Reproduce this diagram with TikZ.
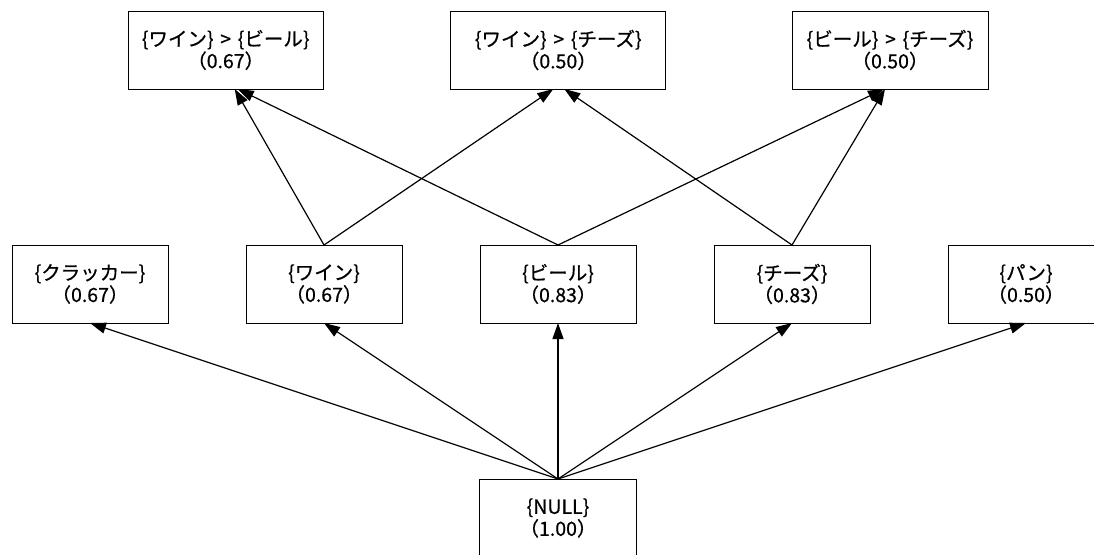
\documentclass[tikz,border=0pt]{standalone}
\usepackage{fontspec}
\setmainfont[FakeBold=0.6,AutoFakeBold=0.6]{Noto Sans CJK JP}
\usetikzlibrary{arrows.meta}
\newcommand{\gtsep}{\hspace{0.12em}>\hspace{0.12em}}
\begin{document}
\begin{tikzpicture}[x=1pt,y=-1pt,
  box/.style={draw=black,line width=1pt,rectangle,minimum height=78pt,inner sep=0pt,outer sep=0pt,align=center,font=\fontsize{19.5}{22}\selectfont\bfseries},
  edge/.style={line width=1.2pt,-{Triangle[length=16pt,width=11pt]}}]
\useasboundingbox (0,0) rectangle (1094,554);
% top row
\node[box,minimum width=195pt] (wb) at (225.7,50) {\{ワイン\} \gtsep{} \{ビール\}\\（0.67）};
\node[box,minimum width=215pt] (wc) at (558.3,50) {\{ワイン\} \gtsep{} \{チーズ\}\\（0.50）};
\node[box,minimum width=196pt] (bc) at (890,50) {\{ビール\} \gtsep{} \{チーズ\}\\（0.50）};
% middle row
\node[box,minimum width=156pt] (cr) at (90,284) {\{クラッカー\}\\（0.67）};
\node[box,minimum width=156pt] (wi) at (324,284) {\{ワイン\}\\（0.67）};
\node[box,minimum width=156pt] (be) at (558,284) {\{ビール\}\\（0.83）};
\node[box,minimum width=156pt] (ch) at (792,284) {\{チーズ\}\\（0.83）};
\node[box,minimum width=156pt] (pa) at (1026,284) {\{パン\}\\（0.50）};
% bottom
\node[box,minimum width=157pt] (nu) at (558,518) {\{NULL\}\\（1.00）};
% edges from NULL
\draw[edge] (nu.north) -- (cr.south);
\draw[edge] (nu.north) -- (wi.south);
\draw[edge] (nu.north) -- (be.south);
\draw[edge] (nu.north) -- (ch.south);
\draw[edge] (nu.north) -- (pa.south);
% edges to top row
\draw[edge] (wi.north) -- ([xshift=9pt]wb.south);
\draw[edge] (be.north) -- ([xshift=12pt]wb.south);
\draw[edge] (wi.north) -- ([xshift=-5pt]wc.south);
\draw[edge] (ch.north) -- ([xshift=6pt]wc.south);
\draw[edge] (be.north) -- ([xshift=-6pt]bc.south);
\draw[edge] (ch.north) -- ([xshift=-5pt]bc.south);
\end{tikzpicture}
\end{document}
